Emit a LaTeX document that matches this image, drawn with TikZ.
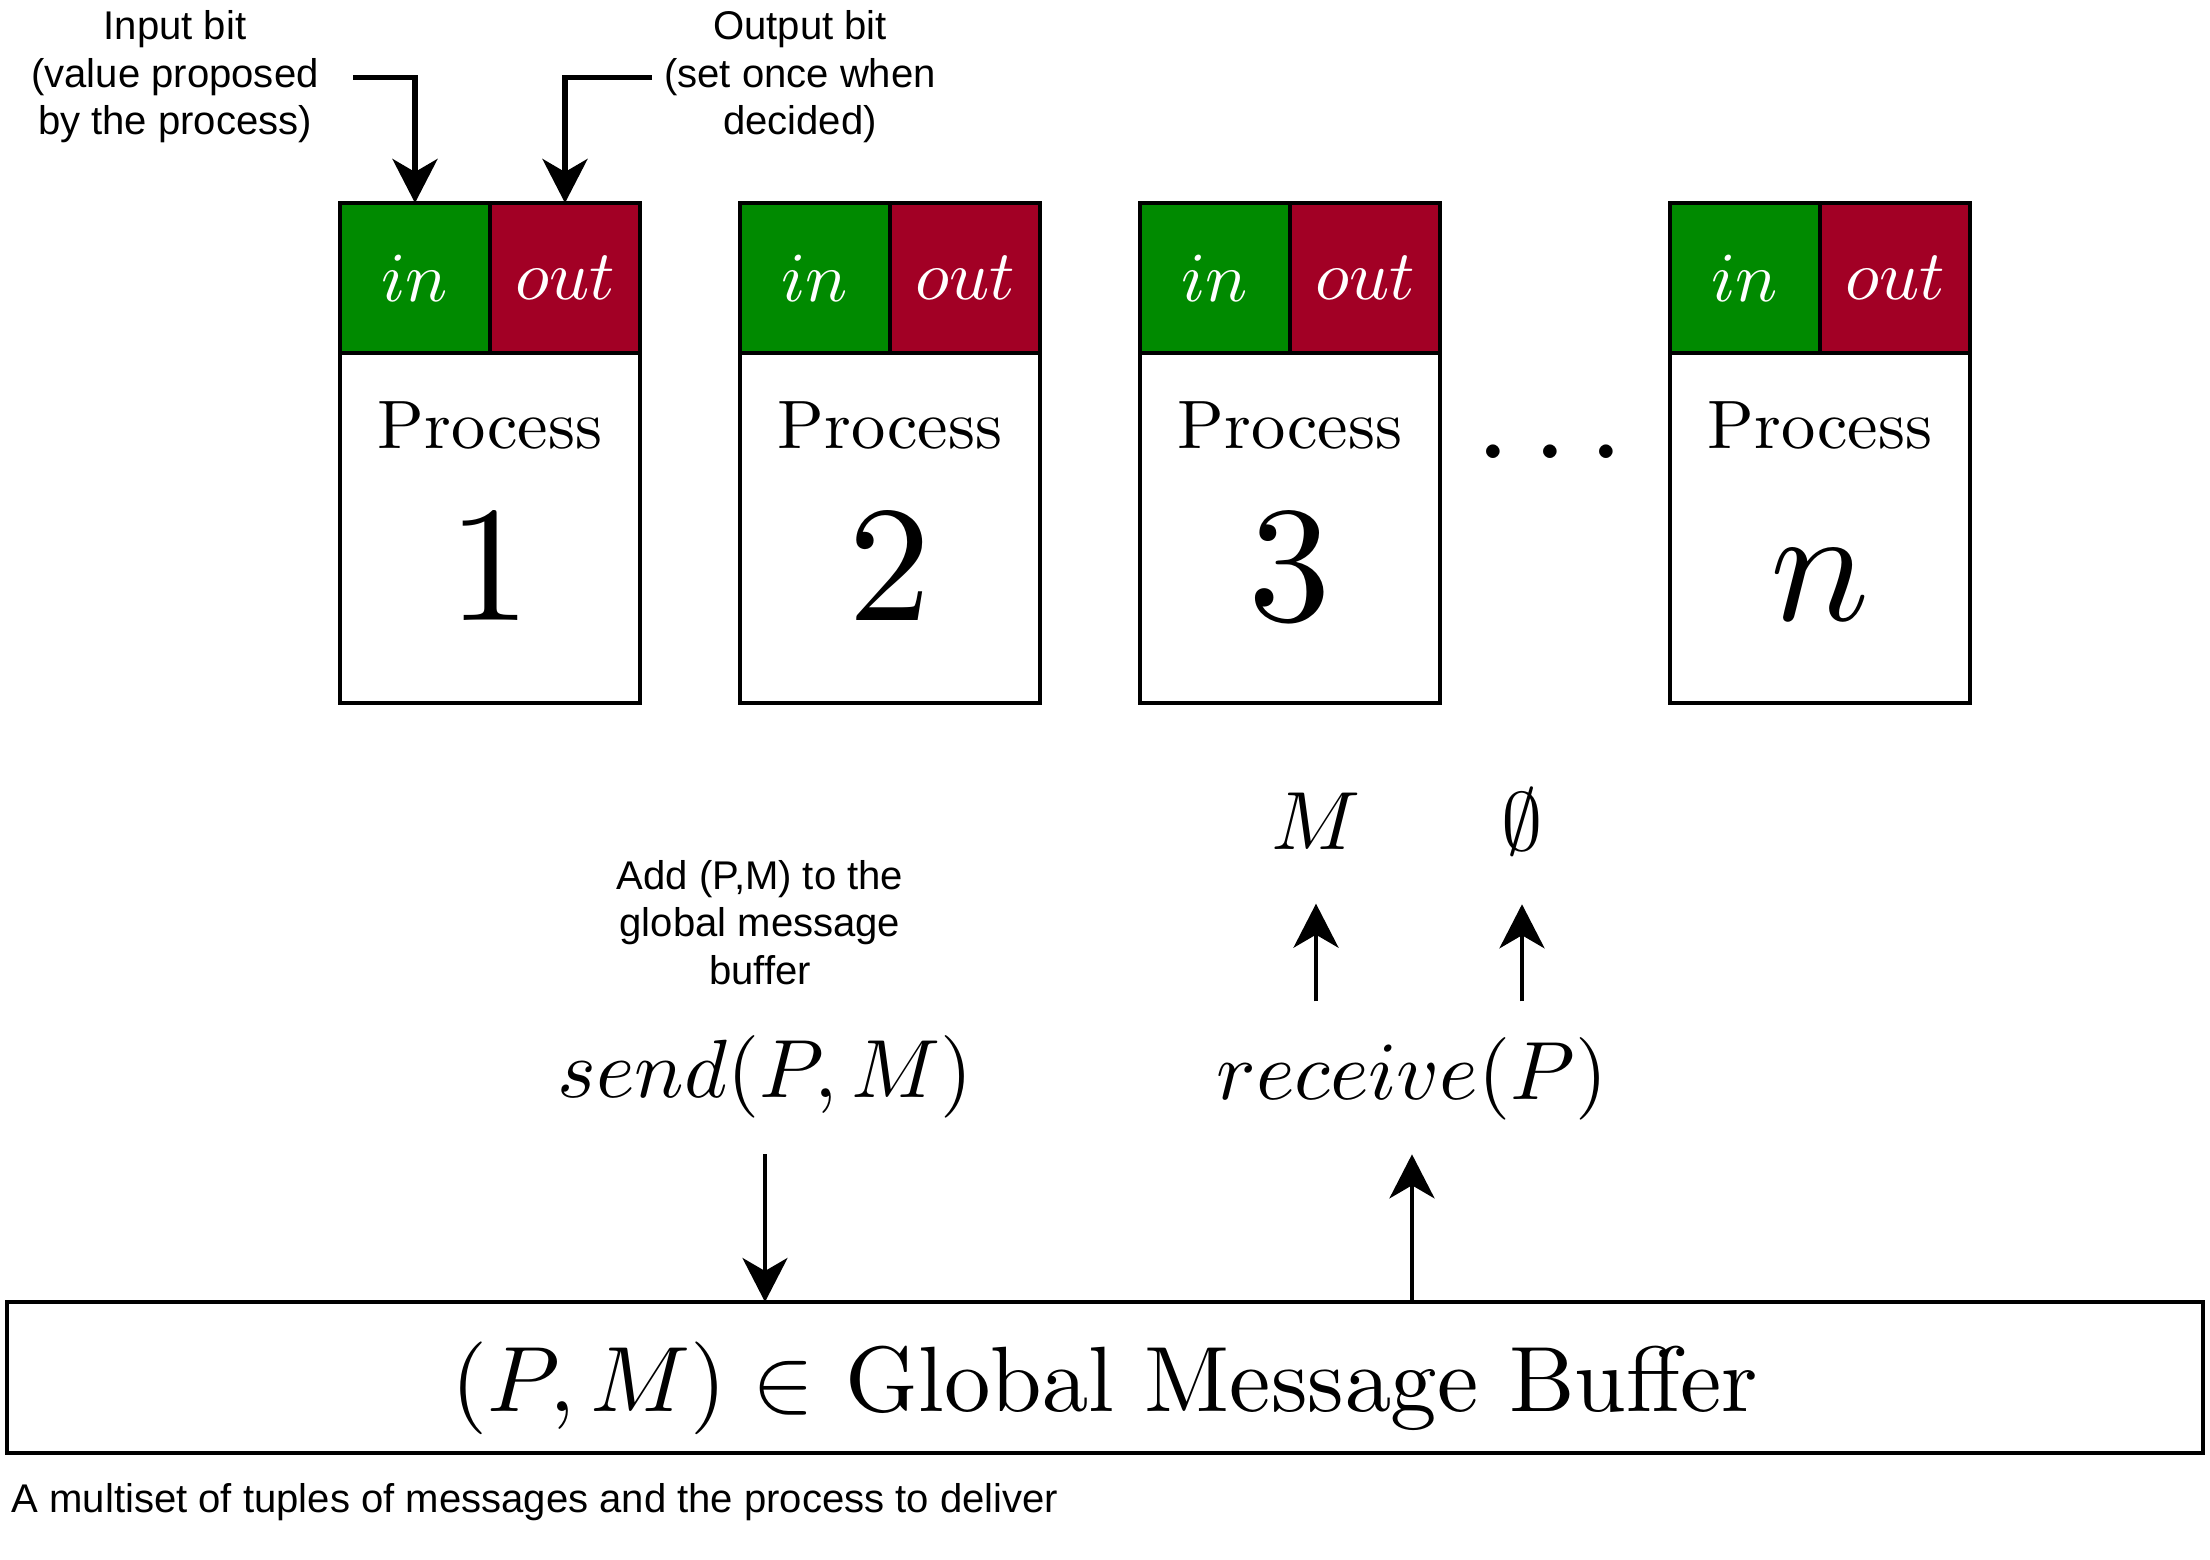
\RequirePackage{fix-cm}
\documentclass[tikz,border=0pt]{standalone}
\usepackage{fontspec}
\newfontfamily\helv{Liberation Sans}
\usepackage{xcolor}
\usetikzlibrary{positioning,arrows.meta}
\definecolor{ingreen}{HTML}{008A00}
\definecolor{outred}{HTML}{A20025}
% 10pt designs scaled up, for the heavier look
\DeclareFontShape{OT1}{cmr}{m}{n}{<->cmr10}{}
\DeclareFontShape{OML}{cmm}{m}{it}{<->cmmi10}{}
\DeclareFontShape{OMS}{cmsy}{m}{n}{<->cmsy10}{}
\newcommand\cmtext{\fontencoding{OT1}\fontfamily{cmr}\selectfont}

\begin{document}
\begin{tikzpicture}[
cell/.style={draw,line width=1.3pt,minimum width=1.5cm,minimum height=1.5cm,inner sep=0,outer sep=0,
    text=white,font=\fontsize{20}{24}\selectfont},
incell/.style={cell,fill=ingreen},
outcell/.style={cell,fill=outred},
body/.style={draw,line width=1.3pt,minimum width=3cm,minimum height=3.5cm,inner sep=0,outer sep=0},
pname/.style={inner sep=0,font=\fontsize{19.5}{24}\cmtext},
pnum/.style={inner sep=0,font=\fontsize{47}{50}\selectfont},
note/.style={inner sep=0,align=center,font=\helv\fontsize{11.4}{13.5}\selectfont},
call/.style={inner sep=0,anchor=base,font=\fontsize{23.5}{28}\selectfont},
link/.style={-{Stealth[length=0.44cm,width=0.45cm,inset=0.13cm]},line width=1.2pt},
bitlink/.style={link,line width=1.5pt}]
\useasboundingbox (0,0) rectangle (22.1,-15.6);

% process 1
\node (in1) [incell,anchor=north west] at (3.40,-2.03) {$in$};
\node (out1) [outcell,right=0pt of in1] {$out$};
\node (proc1) [body,below=0pt of in1.south east] {};
\node (name1) [pname,below=0.48cm of proc1.north] {Process};
\node (num1) [pnum,above=0.82cm of proc1.south] {$1$};

% process 2
\node (in2) [incell,right=1cm of out1] {$in$};
\node (out2) [outcell,right=0pt of in2] {$out$};
\node (proc2) [body,below=0pt of in2.south east] {};
\node (name2) [pname,below=0.48cm of proc2.north] {Process};
\node (num2) [pnum,above=0.82cm of proc2.south] {$2$};

% process 3
\node (in3) [incell,right=1cm of out2] {$in$};
\node (out3) [outcell,right=0pt of in3] {$out$};
\node (proc3) [body,below=0pt of in3.south east] {};
\node (name3) [pname,below=0.48cm of proc3.north] {Process};
\node (num3) [pnum,above=0.82cm of proc3.south] {$3$};

% process n
\node (inn) [incell,right=2.3cm of out3] {$in$};
\node (outn) [outcell,right=0pt of inn] {$out$};
\node (procn) [body,below=0pt of inn.south east] {};
\node (namen) [pname,below=0.48cm of procn.north] {Process};
\node (numn) [pnum,above=0.82cm of procn.south] {$n$};

\node (dots) [inner sep=0,anchor=base,font=\fontsize{36.5}{40}\selectfont] at (15.50,-4.59) {$\ldots$};

% in / out bits
\node (inbit) [note] at (1.75,-0.77) {Input bit\\(value proposed\\by the process)};
\node (outbit) [note] at (8.00,-0.77) {Output bit\\(set once when\\decided)};
\coordinate (inbitend) at (3.53,-0.775);
\coordinate (outbitend) at (6.52,-0.775);
\draw [bitlink] (inbitend) -| (in1.north);
\draw [bitlink] (outbitend) -| (out1.north);

% send / receive
\node (addnote) [note] at (7.60,-9.225) {Add (P,M) to the\\global message\\buffer};
\node (send) [call] at (7.65,-10.98) {$send(P,M)$};
\node (recv) [call] at (14.12,-11.00) {$receive(P)$};
\node (msg) [call] at (13.16,-8.50) {$M$};
\node (none) [call] at (15.22,-8.51) {$\emptyset$};

\node (buffer) [draw,line width=1.3pt,minimum width=21.96cm,minimum height=1.51cm,inner sep=0,outer sep=0,
    text height=0.92cm,font=\fontsize{26.4}{32}\cmtext] at (11.05,-13.775) {$(P,M)\in$ Global Message Buffer};
\node (caption) [note,anchor=base west] at (0.11,-15.13) {A multiset of tuples of messages and the process to deliver};

\draw [link,shorten <=0.35cm] (send.south) -- (send.south |- buffer.north);
\draw [link,shorten >=0.33cm] (recv.south |- buffer.north) -- (recv.south);
\draw [link,shorten <=0.36cm,shorten >=0.53cm] (recv.north -| msg) -- (msg.south);
\draw [link,shorten <=0.36cm,shorten >=0.48cm] (recv.north -| none) -- (none.south);
\end{tikzpicture}
\end{document}
